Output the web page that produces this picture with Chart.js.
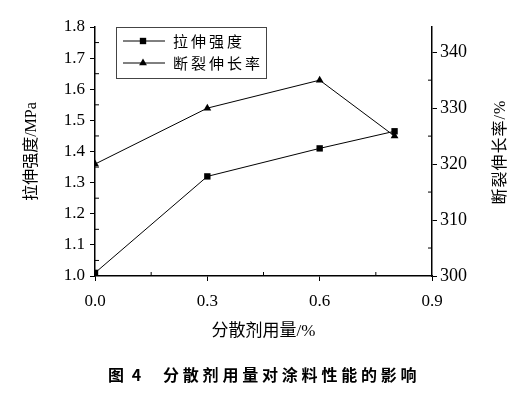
<!DOCTYPE html>
<html lang="zh">
<head>
<meta charset="UTF-8">
<title>分散剂用量对涂料性能的影响</title>
<script src="https://cdn.jsdelivr.net/npm/chart.js@4.4.1/dist/chart.umd.min.js"></script>
<style>
  html, body { margin: 0; padding: 0; background: #fff; }
  #wrap { width: 522px; height: 397px; }
</style>
</head>
<body>
<div id="wrap"><canvas id="chart" width="522" height="397"></canvas></div>
<script>
// data
const dosage = [0, 0.3, 0.6, 0.8];
const tensile = [1.01, 1.32, 1.41, 1.465];
const elongation = [320, 330, 335, 325];
const seriesNames = ['拉伸强度', '断裂伸长率'];

// ticks
const xTicks = [0, 0.3, 0.6, 0.9];
const leftTicks = [1.0, 1.1, 1.2, 1.3, 1.4, 1.5, 1.6, 1.7, 1.8];
const rightTicks = [300, 310, 320, 330, 340];
const xMinor = [0.15, 0.45, 0.75];
const leftMinor = [1.05, 1.15, 1.25, 1.35, 1.45, 1.55, 1.65, 1.75];
const rightMinor = [305, 315, 325, 335];

const FONT = "'Liberation Serif', 'Noto Sans CJK SC', serif";
const CJK = "'Noto Sans CJK SC', sans-serif";

// small inward ticks between the labelled ones
const minorTicks = {
  id: 'minorTicks',
  afterDraw(chart) {
    const {ctx, chartArea: a, scales} = chart;
    ctx.save();
    ctx.strokeStyle = '#000';
    ctx.lineWidth = 1;
    ctx.beginPath();
    xMinor.forEach(v => {
      const x = scales.x.getPixelForValue(v);
      ctx.moveTo(x, a.bottom); ctx.lineTo(x, a.bottom - 4);
    });
    leftMinor.forEach(v => {
      const y = scales.y.getPixelForValue(v);
      ctx.moveTo(a.left, y); ctx.lineTo(a.left + 4, y);
    });
    rightMinor.forEach(v => {
      const y = scales.y2.getPixelForValue(v);
      ctx.moveTo(a.right, y); ctx.lineTo(a.right - 4, y);
    });
    ctx.stroke();
    ctx.restore();
  }
};

// boxed legend inside the plot, right axis title, figure caption
const extras = {
  id: 'extras',
  afterDraw(chart) {
    const ctx = chart.ctx;
    ctx.save();
    // legend
    ctx.strokeStyle = '#444';
    ctx.lineWidth = 1;
    ctx.strokeRect(116.5, 27.5, 150, 51);
    chart.data.datasets.forEach((ds, i) => {
      const y = 41 + i * 22;
      ctx.strokeStyle = '#000';
      ctx.beginPath();
      ctx.moveTo(123, y); ctx.lineTo(165, y);
      ctx.stroke();
      ctx.fillStyle = '#000';
      Chart.helpers.drawPoint(ctx, {pointStyle: ds.pointStyle, radius: ds.pointRadius, rotation: 0, borderWidth: 0}, 143, y);
      ctx.font = '15px ' + CJK;
      ctx.letterSpacing = '3px';
      ctx.textAlign = 'left';
      ctx.textBaseline = 'middle';
      ctx.fillText(ds.label, 173, y);
    });
    // right axis title, reads bottom to top
    ctx.letterSpacing = '1px';
    ctx.font = '16px ' + FONT;
    ctx.translate(501, 152);
    ctx.rotate(-Math.PI / 2);
    ctx.textAlign = 'center';
    ctx.textBaseline = 'middle';
    ctx.fillText('断裂伸长率/%', 0, 0);
    ctx.setTransform(1, 0, 0, 1, 0, 0);
    // caption
    ctx.font = 'bold 16px ' + CJK;
    ctx.letterSpacing = '2px';
    ctx.textAlign = 'left';
    ctx.fillText('图 4', 108, 375);
    ctx.letterSpacing = '3.8px';
    ctx.fillText('分散剂用量对涂料性能的影响', 163, 375);
    ctx.restore();
  }
};

const ctx = document.getElementById('chart').getContext('2d');
new Chart(ctx, {
  type: 'line',
  data: {
    datasets: [{
      label: seriesNames[0],
      data: dosage.map((x, i) => ({x, y: tensile[i]})),
      yAxisID: 'y',
      borderColor: '#000',
      backgroundColor: '#000',
      borderWidth: 1,
      pointStyle: 'rect',
      pointRadius: 4.5,
      pointBorderWidth: 0,
      tension: 0
    }, {
      label: seriesNames[1],
      data: dosage.map((x, i) => ({x, y: elongation[i]})),
      yAxisID: 'y2',
      borderColor: '#000',
      backgroundColor: '#000',
      borderWidth: 1,
      pointStyle: 'triangle',
      pointRadius: 4.5,
      pointBorderWidth: 0,
      tension: 0
    }]
  },
  options: {
    responsive: false,
    animation: false,
    layout: { padding: { top: 27, left: 0, right: 0, bottom: 52 } },
    plugins: { legend: { display: false }, tooltip: { enabled: false } },
    scales: {
      x: {
        type: 'linear',
        min: 0, max: 0.9,
        afterBuildTicks: s => { s.ticks = xTicks.map(value => ({value})); },
        afterFit: s => { s.height = 69; },
        border: { color: '#000', width: 1.5 },
        grid: { drawOnChartArea: false, color: '#000', tickLength: 5 },
        ticks: { color: '#000', font: { family: FONT, size: 17 }, padding: 10,
                 callback: v => v.toFixed(1) },
        title: { display: true, text: '分散剂用量/%', color: '#000',
                 font: { family: FONT, size: 17 }, padding: 3 }
      },
      y: {
        position: 'left',
        min: 1.0, max: 1.8,
        afterBuildTicks: s => { s.ticks = leftTicks.map(value => ({value})); },
        afterFit: s => { s.width = 95; },
        border: { color: '#000', width: 1.5 },
        grid: { drawOnChartArea: false, color: '#000', tickLength: 5 },
        ticks: { color: '#000', font: { family: FONT, size: 17 }, padding: 5,
                 callback: v => v.toFixed(1) },
        title: { display: true, text: '拉伸强度/MPa', color: '#000',
                 font: { family: FONT, size: 16 }, padding: { top: 22, bottom: 0 } }
      },
      y2: {
        position: 'right',
        min: 300, max: 344.5,
        afterBuildTicks: s => { s.ticks = rightTicks.map(value => ({value})); },
        afterFit: s => { s.width = 90; },
        border: { color: '#000', width: 1.5 },
        grid: { drawOnChartArea: false, color: '#000', tickLength: 5 },
        ticks: { color: '#000', font: { family: FONT, size: 18 }, padding: 3,
                 callback: v => String(v) }
      }
    }
  },
  plugins: [minorTicks, extras]
});
</script>
</body>
</html>
